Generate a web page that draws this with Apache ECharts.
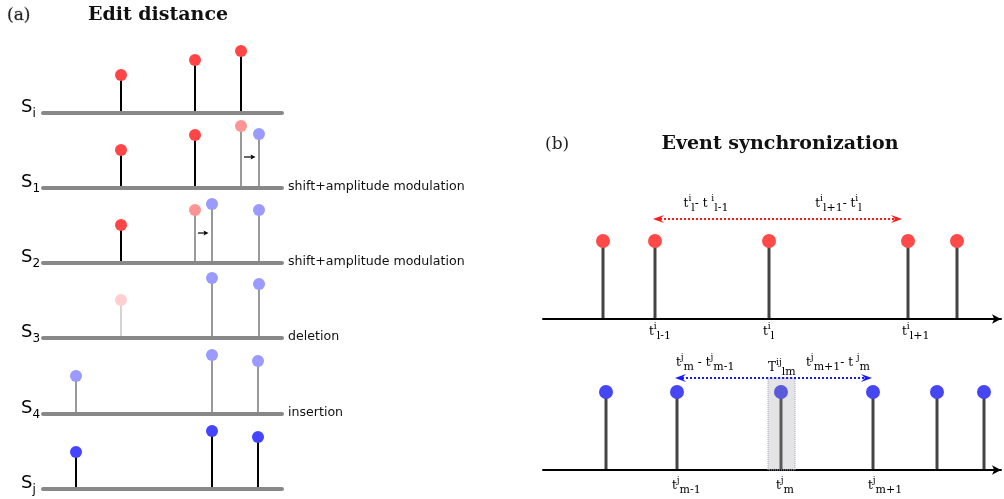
<!DOCTYPE html>
<html>
<head>
<meta charset="utf-8">
<script src="https://cdn.jsdelivr.net/npm/echarts@6/dist/echarts.min.js"></script>
<style>
  html, body { margin: 0; padding: 0; background: #fff; }
  #chart { width: 1004px; height: 499px; }
</style>
</head>
<body>
<div id="chart"></div>
<script>
// ---------- (a) Edit distance: S_i turned into S_j step by step ----------
const rowNames = ['i', '1', '2', '3', '4', 'j'];
const rowNotes = ['', 'shift+amplitude modulation', 'shift+amplitude modulation', 'deletion', 'insertion', ''];
const rowTimes = [
  [78, 152, 198],
  [78, 152, 198, 216],
  [78, 152, 169, 216],
  [78, 169, 216],
  [33, 169, 215],
  [33, 169, 215]
];
const rowAmps = [
  [38, 53, 62],
  [38, 53, 62, 54],
  [38, 53, 59, 53],
  [38, 60, 54],
  [38, 59, 53],
  [37, 58, 52]
];
// src: event of S_i, old: position before an edit, gone: deleted, new: edited/inserted, dst: event of S_j
const rowKinds = [
  ['src', 'src', 'src'],
  ['src', 'src', 'old', 'new'],
  ['src', 'old', 'new', 'new'],
  ['gone', 'new', 'new'],
  ['new', 'new', 'new'],
  ['dst', 'dst', 'dst']
];
// time shifts shown with a small arrow
const shiftRow = [1, 2];
const shiftFrom = [198, 152];
const shiftTo = [216, 169];
const shiftLevel = [31, 30];

// ---------- (b) Event synchronization ----------
const trainI = [60, 112, 226, 365, 414];
const ampI = [78, 78, 78, 78, 78];
const trainJ = [63, 134, 238, 330, 394, 441];
const ampJ = [78, 78, 78, 78, 78, 78];
const spanI = [110, 359];   // red dotted double arrow
const spanJ = [132, 329];   // blue dotted double arrow
const windowT = [225, 252]; // T^{ij}_{lm}
const spanLevelI = 100;
const spanLevelJ = 92;

const kindStyle = {
  src:  { stem: '#000000', dot: '#ff4545' },
  old:  { stem: '#999999', dot: '#ff9494' },
  gone: { stem: '#d4d4d4', dot: '#ffcfcf' },
  new:  { stem: '#999999', dot: '#9a9aff' },
  dst:  { stem: '#000000', dot: '#4545ff' }
};

const SANS = '"DejaVu Sans", sans-serif';
const SERIF = '"DejaVu Serif", serif';

const mathRich = {
  b:   { fontFamily: SERIF, fontSize: 12, lineHeight: 20, verticalAlign: 'middle', color: '#333' },
  sup: { fontFamily: SERIF, fontSize: 9, lineHeight: 9, verticalAlign: 'top', color: '#333' },
  sub: { fontFamily: SERIF, fontSize: 11, lineHeight: 15, verticalAlign: 'bottom', color: '#333' }
};
function mx(parts) {
  // parts: array of [style, text]
  return parts.map(p => '{' + p[0] + '|' + p[1] + '}').join('');
}

const ROW_H = 70;
const rowBase = rowNames.map((_, k) => Math.round(112.7 + k * 75.2));

const grids = [], xAxes = [], yAxes = [], series = [];

rowNames.forEach((name, k) => {
  grids.push({ left: 43, top: rowBase[k] - ROW_H, width: 239, height: ROW_H });
  xAxes.push({
    gridIndex: k, type: 'value', min: 0, max: 239,
    axisLine: { show: true, onZero: false, lineStyle: { color: '#888', width: 4 } },
    axisTick: { show: false }, axisLabel: { show: false }, splitLine: { show: false }
  });
  yAxes.push({ gridIndex: k, type: 'value', min: 0, max: ROW_H, show: false });

  // stems and heads of the events in this row
  series.push({
    type: 'custom', xAxisIndex: k, yAxisIndex: k, clip: false, silent: true,
    data: rowTimes[k].map((t, i) => [t, rowAmps[k][i]]),
    renderItem: (params, api) => {
      const st = kindStyle[rowKinds[k][params.dataIndex]];
      const p0 = api.coord([api.value(0), 0]);
      const p1 = api.coord([api.value(0), api.value(1)]);
      return {
        type: 'group', children: [
          { type: 'line', shape: { x1: p0[0], y1: p0[1] - 2, x2: p1[0], y2: p1[1] }, style: { stroke: st.stem, lineWidth: 2 } },
          { type: 'circle', shape: { cx: p1[0], cy: p1[1], r: 6 }, style: { fill: st.dot } }
        ]
      };
    }
  });

  // row name on the left, edit type on the right
  series.push({
    type: 'custom', xAxisIndex: k, yAxisIndex: k, clip: false, silent: true,
    data: [[0, 0]],
    renderItem: (params, api) => {
      const a = api.coord([0, 0]);
      const b = api.coord([239, 0]);
      const kids = [{
        type: 'text', x: a[0] - 22, y: a[1] - 6,
        style: {
          text: '{s|S}{u|' + name + '}', align: 'left', verticalAlign: 'middle',
          rich: {
            s: { fontFamily: SANS, fontSize: 18, lineHeight: 26, verticalAlign: 'middle', color: '#111' },
            u: { fontFamily: SANS, fontSize: 12, lineHeight: 12, verticalAlign: 'bottom', color: '#111' }
          }
        }
      }];
      if (rowNotes[k]) {
        kids.push({
          type: 'text', x: b[0] + 6, y: a[1] - 1,
          style: { text: rowNotes[k], align: 'left', verticalAlign: 'middle', fontFamily: SANS, fontSize: 12.6, fill: '#111' }
        });
      }
      return { type: 'group', children: kids };
    }
  });
});

// small shift arrows
shiftRow.forEach((r, s) => {
  series.push({
    type: 'custom', xAxisIndex: r, yAxisIndex: r, clip: false, silent: true,
    data: [[shiftFrom[s], shiftTo[s], shiftLevel[s]]],
    renderItem: (params, api) => {
      const p = api.coord([api.value(0), api.value(2)]);
      const q = api.coord([api.value(1), api.value(2)]);
      const x1 = p[0] + 3, x2 = q[0] - 3.5, y = p[1];
      return {
        type: 'group', children: [
          { type: 'line', shape: { x1: x1, y1: y, x2: x2 - 3, y2: y }, style: { stroke: '#000', lineWidth: 1.2 } },
          { type: 'polygon', shape: { points: [[x2, y], [x2 - 5, y - 2.5], [x2 - 4, y], [x2 - 5, y + 2.5]] }, style: { fill: '#000' } }
        ]
      };
    }
  });
});

// ---------- right panel grids ----------
const GI = 6, GJ = 7;
const RH = 110;
grids.push({ left: 543, top: 319 - RH, width: 458, height: RH });
grids.push({ left: 543, top: 470 - RH, width: 458, height: RH });
[GI, GJ].forEach(g => {
  xAxes.push({
    gridIndex: g, type: 'value', min: 0, max: 458,
    axisLine: { show: true, onZero: false, symbol: ['none', 'arrow'], symbolSize: [7, 9], lineStyle: { color: '#000', width: 2 } },
    axisTick: { show: false }, axisLabel: { show: false }, splitLine: { show: false }
  });
  yAxes.push({ gridIndex: g, type: 'value', min: 0, max: RH, show: false });
});

function trainSeries(g, times, amps, color) {
  return {
    type: 'custom', xAxisIndex: g, yAxisIndex: g, clip: false, silent: true,
    data: times.map((t, i) => [t, amps[i]]),
    renderItem: (params, api) => {
      const p0 = api.coord([api.value(0), 0]);
      const p1 = api.coord([api.value(0), api.value(1)]);
      return {
        type: 'group', children: [
          { type: 'line', shape: { x1: p0[0], y1: p0[1] - 1, x2: p1[0], y2: p1[1] }, style: { stroke: '#444', lineWidth: 3 } },
          { type: 'circle', shape: { cx: p1[0], cy: p1[1], r: 7 }, style: { fill: color } }
        ]
      };
    }
  };
}
series.push(trainSeries(GI, trainI, ampI, '#ff4a4a'));
series.push(trainSeries(GJ, trainJ, ampJ, '#4646f2'));

function arrowHead(x, y, dir, color) {
  return {
    type: 'polygon',
    shape: { points: [[x, y], [x - dir * 11, y - 4], [x - dir * 7, y], [x - dir * 11, y + 4]] },
    style: { fill: color }
  };
}
function dottedArrow(a, b, color) {
  return [
    { type: 'line', shape: { x1: a[0] + 7, y1: a[1], x2: b[0] - 7, y2: b[1] }, style: { stroke: color, lineWidth: 2, lineDash: [2, 2] } },
    arrowHead(a[0], a[1], -1, color),
    arrowHead(b[0], b[1], 1, color)
  ];
}
function mathText(x, y, parts, align) {
  return {
    type: 'text', x: x, y: y,
    style: { text: mx(parts), align: align || 'center', verticalAlign: 'middle', rich: mathRich }
  };
}

// window T^{ij}_{lm}: shaded band over the j train
series.push({
  type: 'custom', xAxisIndex: GJ, yAxisIndex: GJ, clip: false, silent: true,
  data: [[windowT[0], windowT[1], spanLevelJ]],
  renderItem: (params, api) => {
    const a = api.coord([api.value(0), api.value(2)]);
    const b = api.coord([api.value(1), 0]);
    return {
      type: 'rect',
      shape: { x: a[0], y: a[1], width: b[0] - a[0], height: b[1] - a[1] },
      style: { fill: 'rgba(150,150,150,0.26)', stroke: '#a4a4c4', lineWidth: 1, lineDash: [1, 1] }
    };
  }
});

// top train: dotted span and labels
series.push({
  type: 'custom', xAxisIndex: GI, yAxisIndex: GI, clip: false, silent: true,
  data: [[0]],
  renderItem: (params, api) => {
    const a = api.coord([spanI[0], spanLevelI]);
    const b = api.coord([spanI[1], spanLevelI]);
    const t = trainI.map(v => api.coord([v, 0]));
    const kids = dottedArrow(a, b, '#ff1a1a');
    kids.push(mathText((t[1][0] + t[2][0]) / 2 - 6, a[1] - 15,
      [['b', 't'], ['sup', 'i'], ['sub', 'l'], ['b', '- t '], ['sup', 'i'], ['sub', 'l-1']]));
    kids.push(mathText((t[2][0] + t[3][0]) / 2, a[1] - 15,
      [['b', 't'], ['sup', 'i'], ['sub', 'l+1'], ['b', '- t'], ['sup', 'i'], ['sub', 'l']]));
    const subs = ['l-1', 'l', 'l+1'];
    [1, 2, 3].forEach((idx, n) => {
      kids.push(mathText(t[idx][0] - 6, t[idx][1] + 13, [['b', 't'], ['sup', 'i'], ['sub', subs[n]]], 'left'));
    });
    return { type: 'group', children: kids };
  }
});

// bottom train: dotted span and labels
series.push({
  type: 'custom', xAxisIndex: GJ, yAxisIndex: GJ, clip: false, silent: true,
  data: [[0]],
  renderItem: (params, api) => {
    const a = api.coord([spanJ[0], spanLevelJ]);
    const b = api.coord([spanJ[1], spanLevelJ]);
    const t = trainJ.map(v => api.coord([v, 0]));
    const w = api.coord([windowT[0], spanLevelJ]);
    const kids = dottedArrow(a, b, '#1a1aff');
    kids.push(mathText(t[1][0] - 1, a[1] - 15,
      [['b', 't'], ['sup', 'j'], ['sub', 'm'], ['b', ' - t'], ['sup', 'j'], ['sub', 'm-1']], 'left'));
    kids.push(mathText(t[3][0] - 3, a[1] - 15,
      [['b', 't'], ['sup', 'j'], ['sub', 'm+1'], ['b', '- t '], ['sup', 'j'], ['sub', 'm']], 'right'));
    kids.push(mathText(w[0], w[1] - 10,
      [['b', 'T'], ['sup', 'ij'], ['sub', 'lm']], 'left'));
    const subs = ['m-1', 'm', 'm+1'];
    [1, 2, 3].forEach((idx, n) => {
      kids.push(mathText(t[idx][0] - 5, t[idx][1] + 16, [['b', 't'], ['sup', 'j'], ['sub', subs[n]]], 'left'));
    });
    return { type: 'group', children: kids };
  }
});

const titleStyle = { fontFamily: SERIF, fontSize: 19, fontWeight: 'bold', fill: '#111' };
const tagStyle = { fontFamily: SERIF, fontSize: 17, fill: '#222' };

const chart = echarts.init(document.getElementById('chart'));
chart.setOption({
  animation: false,
  backgroundColor: '#fff',
  grid: grids,
  xAxis: xAxes,
  yAxis: yAxes,
  series: series,
  graphic: [
    { type: 'text', x: 7, y: 16, style: Object.assign({ text: '(a)', verticalAlign: 'middle' }, tagStyle) },
    { type: 'text', x: 158, y: 15, style: Object.assign({ text: 'Edit distance', align: 'center', verticalAlign: 'middle' }, titleStyle) },
    { type: 'text', x: 545, y: 145, style: Object.assign({ text: '(b)', verticalAlign: 'middle' }, tagStyle) },
    { type: 'text', x: 780, y: 144, style: Object.assign({ text: 'Event synchronization', align: 'center', verticalAlign: 'middle' }, titleStyle) }
  ]
});

// dotted guide from t^i_l on the top axis down to the bottom axis
const gTop = chart.convertToPixel({ gridIndex: GI }, [trainI[2] - 1, 0]);
const gBot = chart.convertToPixel({ gridIndex: GJ }, [trainI[2] - 1, 0]);
chart.setOption({
  graphic: [
    { type: 'line', shape: { x1: gTop[0], y1: gTop[1] + 1, x2: gBot[0], y2: gBot[1] - 1 }, style: { stroke: '#9a9a9a', lineWidth: 1, lineDash: [1, 1] }, z: 5 }
  ]
});
</script>
</body>
</html>
